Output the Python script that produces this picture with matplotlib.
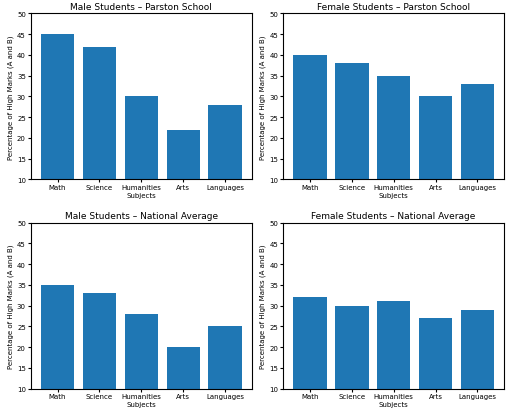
import matplotlib.pyplot as plt

subjects = ['Math', 'Science', 'Humanities', 'Arts', 'Languages']
male_parston = [45, 42, 30, 22, 28]
female_parston = [40, 38, 35, 30, 33]
male_national = [35, 33, 28, 20, 25]
female_national = [32, 30, 31, 27, 29]

panels = [
    ('Male Students – Parston School', male_parston),
    ('Female Students – Parston School', female_parston),
    ('Male Students – National Average', male_national),
    ('Female Students – National Average', female_national),
]

fig, axes = plt.subplots(2, 2, figsize=(5.12, 4.1), dpi=100)
for ax, (title, vals) in zip(axes.flat, panels):
    ax.bar(subjects, vals, color='#1f77b4')
    ax.set_ylim(10, 50)
    ax.set_title(title, fontsize=6.5, pad=3)
    ax.set_xlabel('Subjects', fontsize=5, labelpad=1)
    ax.set_ylabel('Percentage of High Marks (A and B)', fontsize=5, labelpad=2)
    ax.tick_params(labelsize=5, length=2, pad=1.5)

plt.subplots_adjust(left=0.06, right=0.985, top=0.965, bottom=0.05, wspace=0.14, hspace=0.26)
plt.savefig('out.png')
